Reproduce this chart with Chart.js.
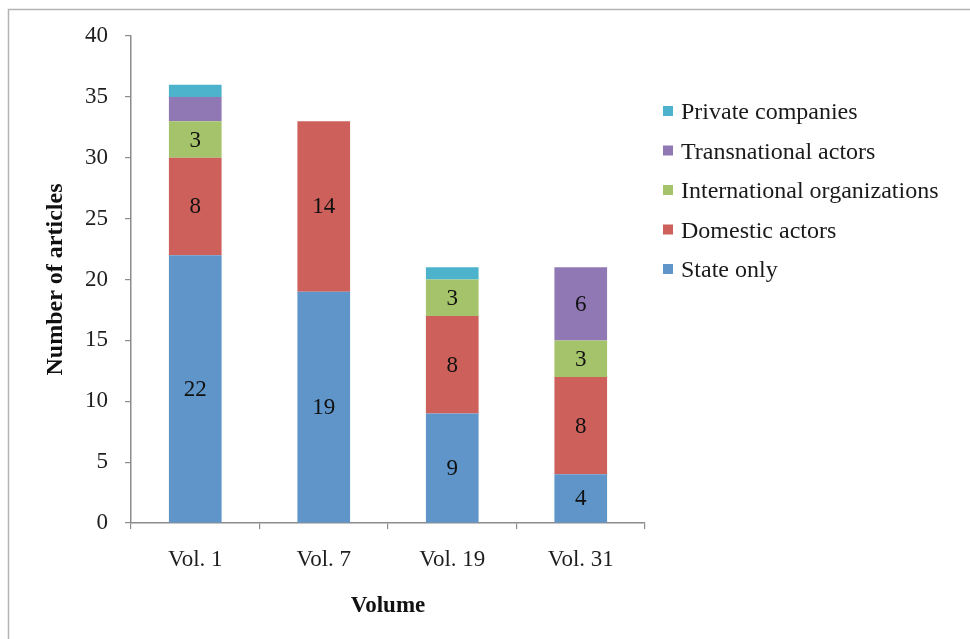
<!DOCTYPE html>
<html>
<head>
<meta charset="utf-8">
<script src="https://cdn.jsdelivr.net/npm/chart.js@4.4.1/dist/chart.umd.min.js"></script>
<style>
  html, body { margin: 0; padding: 0; background: #ffffff; }
  #wrap { width: 970px; height: 639px; position: relative; }
</style>
</head>
<body>
<div id="wrap"><canvas id="chart" width="970" height="639"></canvas></div>
<script>
// Volumes on the x axis
const volumes = ['Vol. 1', 'Vol. 7', 'Vol. 19', 'Vol. 31'];

// Articles per actor type, one value per volume
const stateOnly      = [22, 19, 9, 4];
const domesticActors = [8, 14, 8, 8];
const intlOrgs       = [3, 0, 3, 3];
const transnational  = [2, 0, 0, 6];
const privateCos     = [1, 0, 1, 0];

const seriesNames = ['State only', 'Domestic actors', 'International organizations', 'Transnational actors', 'Private companies'];
const seriesColors = ['#5f95c9', '#cd605b', '#a5c36a', '#8f78b4', '#4db3cc'];

// y axis ticks
const yTicks = [0, 5, 10, 15, 20, 25, 30, 35, 40];

const FONT = "'Liberation Serif', 'Times New Roman', serif";
const AXIS_GREY = '#8c8c8c';

const seriesValues = [stateOnly, domesticActors, intlOrgs, transnational, privateCos];

const datasets = seriesValues.map((vals, i) => ({
  label: seriesNames[i],
  data: vals,
  backgroundColor: seriesColors[i],
  borderWidth: 0,
  categoryPercentage: 1.0,
  barPercentage: 0.41
}));

// Outer frame of the chart
const framePlugin = {
  id: 'frame',
  beforeDraw(chart) {
    const ctx = chart.ctx;
    ctx.save();
    ctx.fillStyle = '#ffffff';
    ctx.fillRect(0, 0, chart.width, chart.height);
    ctx.strokeStyle = '#b4b4b4';
    ctx.lineWidth = 1.5;
    ctx.strokeRect(8.5, 9.5, 1100, 800);
    ctx.restore();
  }
};

// Value labels centred in segments
const segmentLabels = {
  id: 'segmentLabels',
  afterDatasetsDraw(chart) {
    const ctx = chart.ctx;
    ctx.save();
    ctx.font = '23px ' + FONT;
    ctx.fillStyle = '#111111';
    ctx.textAlign = 'center';
    ctx.textBaseline = 'middle';
    chart.data.datasets.forEach((ds, di) => {
      const meta = chart.getDatasetMeta(di);
      meta.data.forEach((bar, i) => {
        const v = ds.data[i];
        if (v < 3) return;
        const yMid = (bar.y + bar.base) / 2;
        ctx.fillText(String(v), bar.x, yMid + 1);
      });
    });
    ctx.restore();
  }
};

// Legend on the right, top series first
const sideLegend = {
  id: 'sideLegend',
  afterDraw(chart) {
    const ctx = chart.ctx;
    ctx.save();
    ctx.font = '24px ' + FONT;
    ctx.textBaseline = 'middle';
    ctx.textAlign = 'left';
    const ds = chart.data.datasets.slice().reverse();
    const x0 = 663, y0 = 112, step = 39.5;
    ds.forEach((d, i) => {
      const y = y0 + i * step;
      ctx.fillStyle = d.backgroundColor;
      ctx.fillRect(x0, y - 6, 10, 10);
      ctx.fillStyle = '#1a1a1a';
      ctx.fillText(d.label, x0 + 18, y + 1);
    });
    ctx.restore();
  }
};

new Chart(document.getElementById('chart'), {
  type: 'bar',
  data: { labels: volumes, datasets },
  options: {
    responsive: false,
    animation: false,
    layout: { padding: { left: 0, right: 325, top: 36, bottom: 0 } },
    plugins: {
      legend: { display: false },
      tooltip: { enabled: false }
    },
    scales: {
      x: {
        stacked: true,
        offset: true,
        grid: {
          display: true,
          offset: true,
          drawOnChartArea: false,
          drawTicks: true,
          tickLength: 6,
          color: AXIS_GREY,
          lineWidth: 1.2
        },
        border: { display: true, color: AXIS_GREY, width: 1.5 },
        ticks: { font: { family: FONT, size: 23 }, color: '#1e1e1e', padding: 17 },
        title: {
          display: true,
          text: 'Volume',
          font: { family: FONT, size: 23, weight: 'bold' },
          color: '#111111',
          padding: { top: 0, bottom: 19 }
        },
        afterFit(scale) { scale.height = 116; }
      },
      y: {
        stacked: true,
        min: 0,
        max: 40,
        afterBuildTicks(scale) { scale.ticks = yTicks.map(v => ({ value: v })); },
        grid: {
          display: true,
          drawOnChartArea: false,
          drawTicks: true,
          tickLength: 6,
          color: AXIS_GREY,
          lineWidth: 1.2
        },
        border: { display: true, color: AXIS_GREY, width: 1.5 },
        ticks: { font: { family: FONT, size: 23 }, color: '#1e1e1e', padding: 17 },
        title: {
          display: true,
          text: 'Number of articles',
          font: { family: FONT, size: 24, weight: 'bold' },
          color: '#111111',
          padding: { top: 41, bottom: 0 }
        },
        afterFit(scale) { scale.width = 131; }
      }
    }
  },
  plugins: [framePlugin, segmentLabels, sideLegend]
});
</script>
</body>
</html>
